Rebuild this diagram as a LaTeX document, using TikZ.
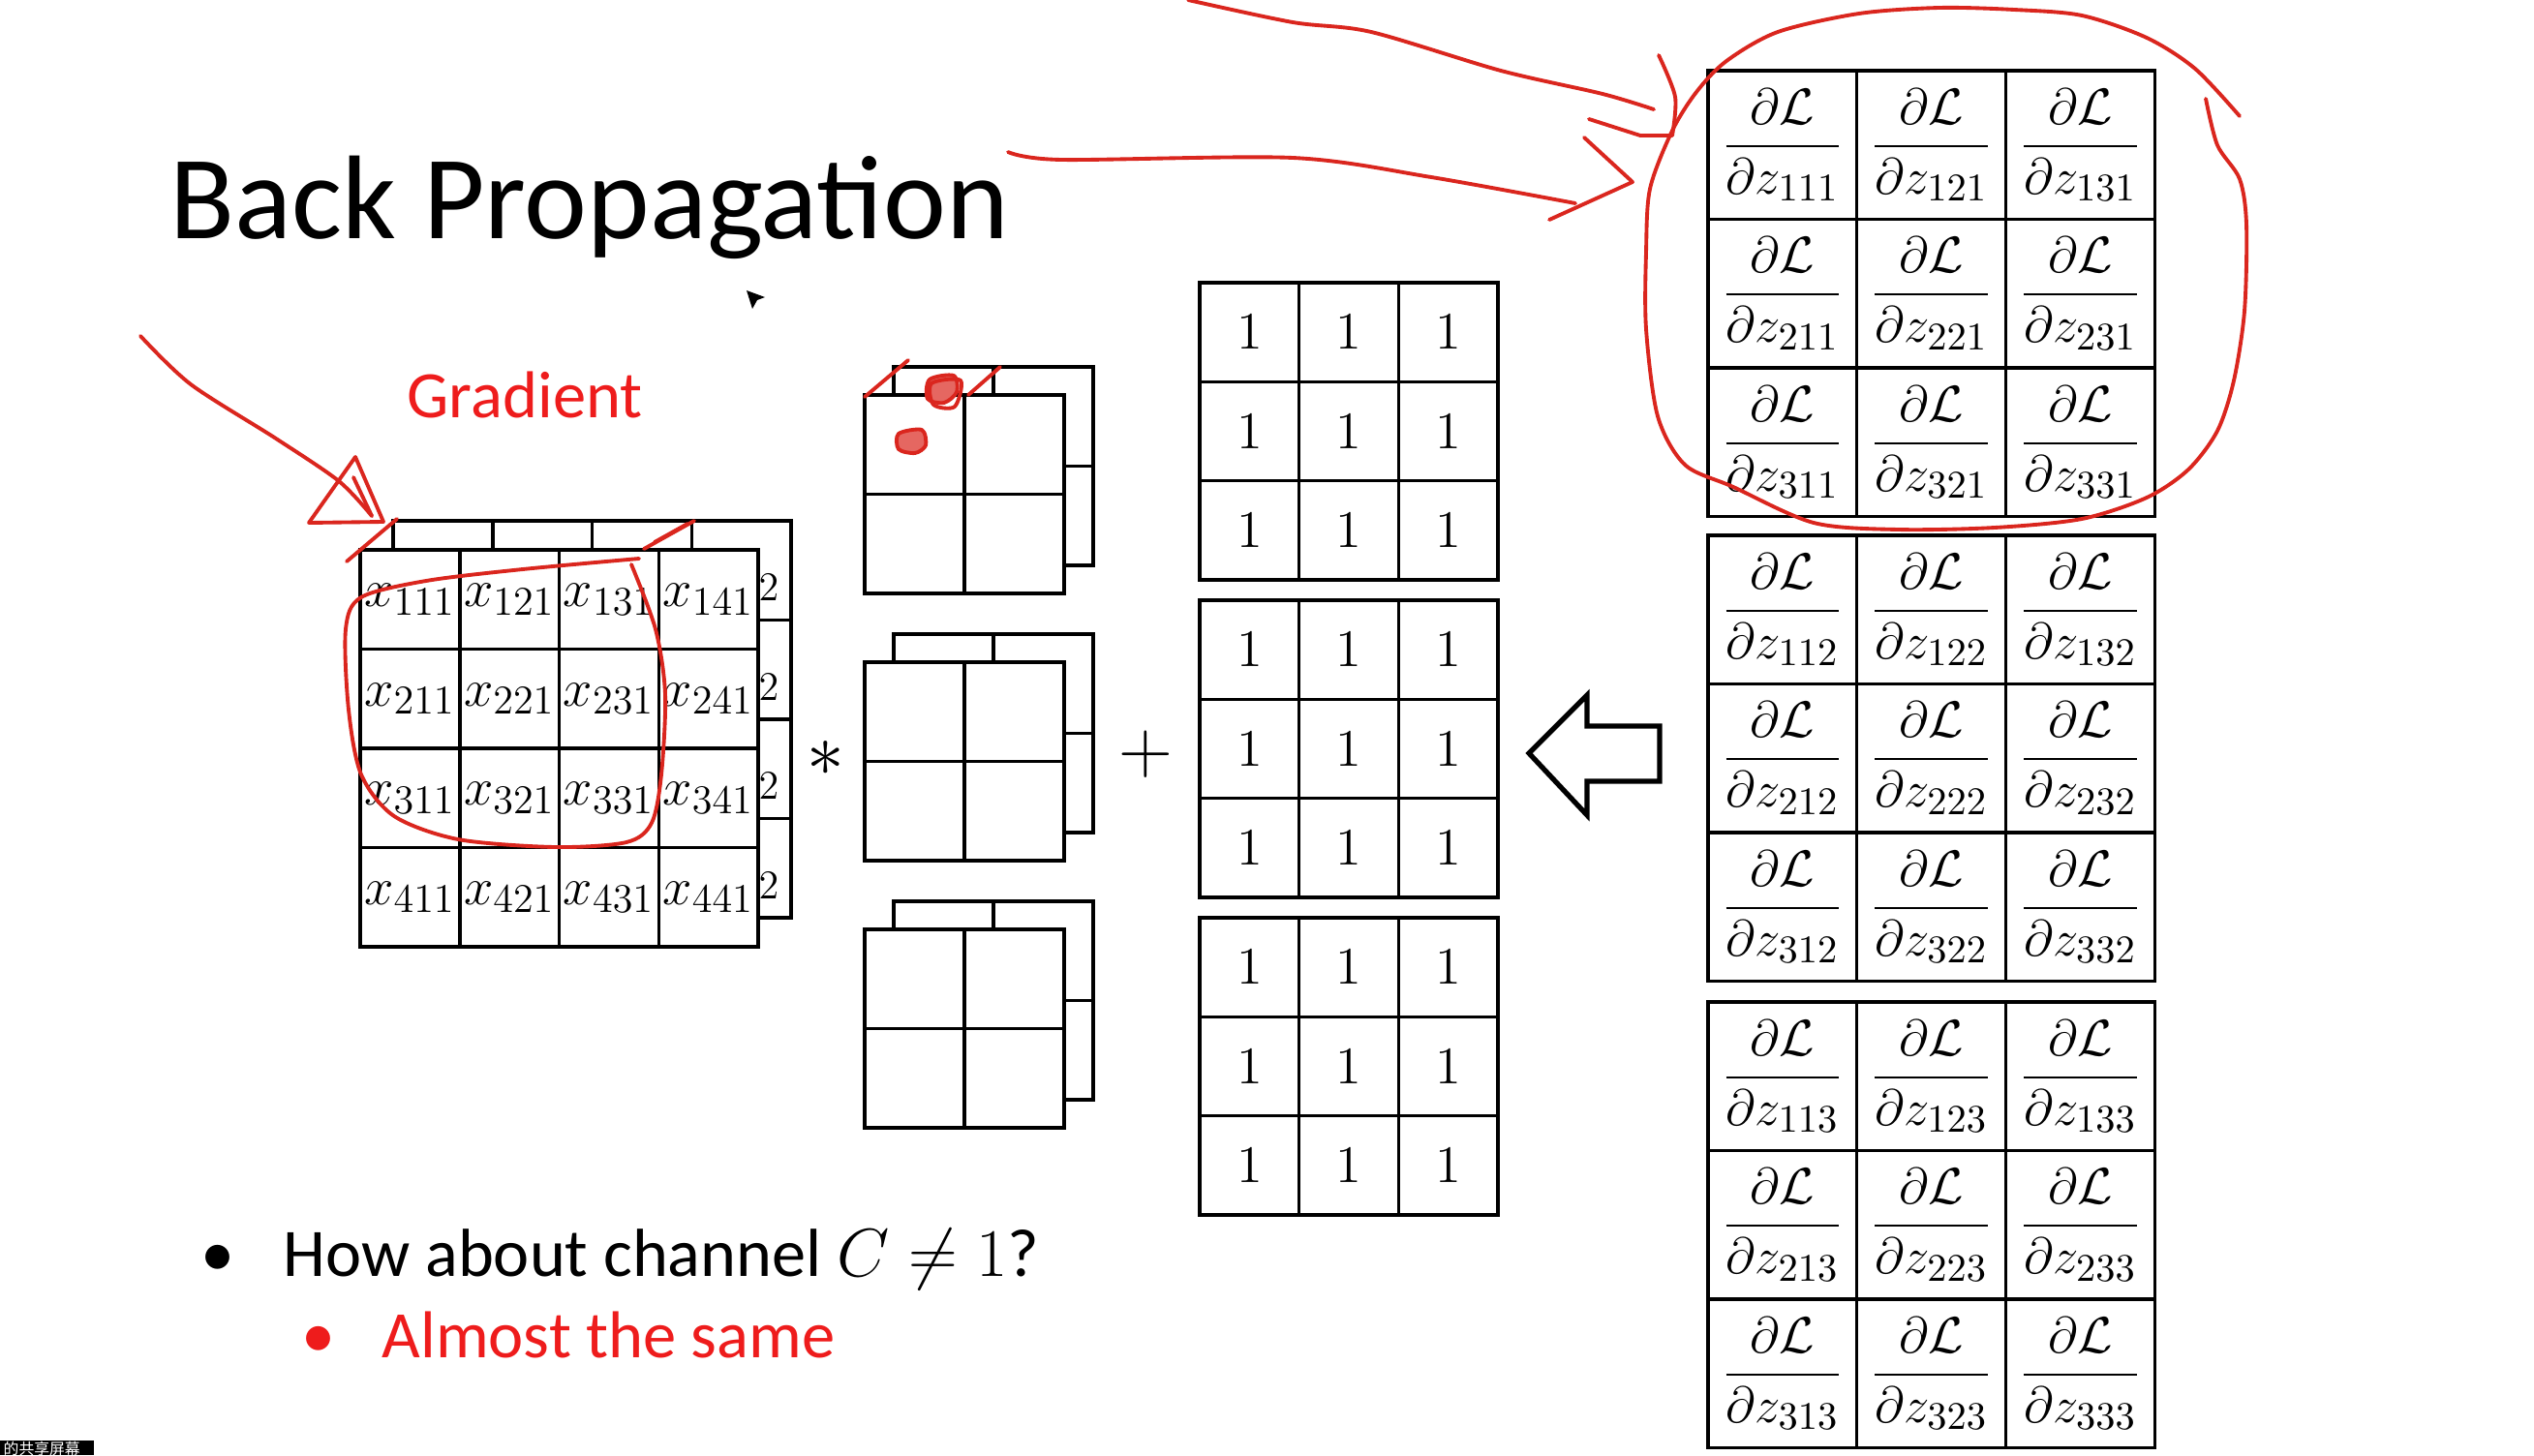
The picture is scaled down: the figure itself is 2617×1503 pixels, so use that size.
\RequirePackage{fix-cm}
\documentclass[tikz,border=0pt]{standalone}
\usepackage{amsmath}
\usepackage[no-math]{fontspec}
\setmainfont{Carlito}
\newfontfamily\cjkfont{Noto Sans CJK SC}
\DeclareMathSizes{15.5}{15.5}{12}{9}
\DeclareMathSizes{15}{15}{11.5}{9}
\definecolor{inkred}{RGB}{218,38,30}
\definecolor{slidered}{RGB}{238,28,28}

\tikzset{
  txt/.style={inner sep=0pt, anchor=base west},
  xcell/.style={draw, line width=1pt, fill=white, inner sep=0pt,
    minimum width=10.275mm, minimum height=10.25mm, font=\fontsize{15.5}{18}\selectfont},
  kcell/.style={draw, line width=1pt, fill=white, inner sep=0pt,
    minimum width=10.3mm, minimum height=10.25mm},
  onecell/.style={draw, line width=1pt, inner sep=0pt,
    minimum width=10.27mm, minimum height=10.23mm, font=\fontsize{15.5}{18}\selectfont},
  dcell/.style={draw, line width=0.9pt, inner sep=0pt,
    minimum width=15.37mm, minimum height=15.35mm, font=\fontsize{15}{18}\selectfont},
  ink/.style={draw=inkred, line width=1.1pt, line cap=round, line join=round},
}

\begin{document}
\begin{tikzpicture}[x=0.1mm, y=-0.1mm]
    \fill[white] (0,0) rectangle (2617,1503);
    \useasboundingbox (0,0) rectangle (2617,1503);

    \node[txt, font=\fontsize{35}{42}\selectfont] (title) at (175,247) {Back Propagation};
    \node[txt, text=slidered, font=\fontsize{19.5}{23}\selectfont] (grad) at (420,431) {Gradient};

    % input, back channel then front channel
    \foreach \r in {1,...,4}
      \foreach \c in {1,...,4}
        \node[xcell] (xb\r\c) at ({406+102.75*(\c-0.5)},{538+102.5*(\r-0.5)}) {};
    \foreach \r in {1,...,4}
      \node[inner sep=0pt, font=\fontsize{15.5}{18}\selectfont] (two\r) at (794,{607+102.5*(\r-1)}) {$\scriptstyle 2$};
    \foreach \r in {1,...,4}
      \foreach \c in {1,...,4}
        \node[xcell] (xf\r\c) at ({372+102.75*(\c-0.5)},{568+102.5*(\r-0.5)}) {$x_{\r\c1}$};

    \node[font=\fontsize{22}{26}\selectfont, inner sep=0pt] (times) at (853,784) {$\ast$};

    % filters, two channels each
    \foreach \k/\ky in {1/408, 2/684, 3/960} {
      \foreach \r in {1,2}
        \foreach \c in {1,2}
          \node[kcell] (kb\k\r\c) at ({923+103*(\c-0.5)},{\ky-29+102.5*(\r-0.5)}) {};
      \foreach \r in {1,2}
        \foreach \c in {1,2}
          \node[kcell] (kf\k\r\c) at ({893+103*(\c-0.5)},{\ky+102.5*(\r-0.5)}) {};
    }

    \node[font=\fontsize{22}{26}\selectfont, inner sep=0pt] (plus) at (1183,779) {$+$};

    % bias terms
    \foreach \g/\gy in {1/292, 2/620, 3/948}
      \foreach \r in {1,2,3}
        \foreach \c in {1,2,3}
          \node[onecell] (o\g\r\c) at ({1239+102.7*(\c-0.5)},{\gy+102.3*(\r-0.5)}) {$1$};

    % hollow arrow
    \draw[line width=1.5pt, miter limit=8] (1579,778) -- (1639,718) -- (1639,750) -- (1714,750)
      -- (1714,807) -- (1639,807) -- (1639,842) -- cycle;

    % gradients from the next layer
    \foreach \g/\gy in {1/73, 2/553, 3/1035}
      \foreach \r in {1,2,3}
        \foreach \c in {1,2,3}
          \node[dcell] (d\g\r\c) at ({1764+153.7*(\c-0.5)},{\gy+153.5*(\r-0.5)})
            {$\dfrac{\partial\mathcal{L}}{\partial z_{\r\c\g}}$};

    % bullets
    \node[inner sep=0pt, anchor=base, font=\fontsize{20}{24}\selectfont] (b1) at (225,1318) {•};
    \node[txt, font=\fontsize{20}{24}\selectfont] (q) at (292,1318) {How about channel $C \neq 1$?};
    \node[inner sep=0pt, anchor=base, text=slidered, font=\fontsize{20}{24}\selectfont] (b2) at (329,1402) {•};
    \node[txt, text=slidered, font=\fontsize{19.5}{23}\selectfont] (a) at (394,1402) {Almost the same};

    % pen strokes
    \draw[ink] plot[smooth] coordinates {(145,347) (197,397) (285,453) (350,497) (384,533)};
    \draw[ink] (319,540) -- (396,539) -- (367,472) -- cycle;
    \draw[ink] (365,493) -- (384,533);
    \draw[ink] (358,580) -- (410,536);
    \draw[ink] (665,567) -- (717,538);
    \draw[ink] (676,560) -- (710,541);
    \draw[ink] plot[smooth] coordinates {(660,577) (540,588) (440,600) (373,617) (357,650)
      (360,733) (373,800) (407,843) (473,867) (573,875) (647,870) (673,850) (683,800)
      (687,717) (677,650) (652,583)};

    \draw[ink] (893,410) -- (938,372);
    \draw[ink] (1000,408) -- (1033,379);
    \draw[ink, fill=inkred!70] plot[smooth cycle] coordinates {(960,392) (985,388) (988,405) (975,416) (958,412)};
    \draw[ink] plot[smooth cycle] coordinates {(962,396) (992,393) (986,420) (964,418)};
    \draw[ink, fill=inkred!70] plot[smooth cycle] coordinates {(928,448) (952,444) (956,460) (945,468) (928,464)};

    \draw[ink] plot[smooth] coordinates {(1227,0) (1335,23) (1416,33) (1550,73) (1655,97) (1708,113)};
    \draw[ink] (1641,123) -- (1694,140) -- (1727,140);
    \draw[ink] plot[smooth] coordinates {(1713,57) (1730,100) (1727,140)};
    \draw[ink] plot[smooth] coordinates {(1041,157) (1096,165) (1335,163) (1478,183) (1627,210)};
    \draw[ink] (1636,142) -- (1686,188) -- (1600,227);
    \draw[ink] plot[smooth] coordinates {(2278,102) (2290,150) (2313,185) (2320,232) (2318,321)
      (2307,393) (2290,445) (2260,485) (2217,514) (2150,536) (2060,545) (1960,547) (1873,540)
      (1790,503) (1740,480) (1712,430) (1700,340) (1700,260) (1704,195) (1727,135) (1752,95)
      (1783,63) (1836,33) (1920,14) (2003,8) (2080,10) (2150,16) (2217,39) (2267,71) (2313,120)};

    % mouse pointer
    \fill (771,300) -- (790,307) -- (782,310) -- (777,319) -- cycle;

    % screen sharing tag
    \fill[black] (0,1488) rectangle (97,1503);
    \node[anchor=west, inner sep=0pt, text=white, font=\cjkfont\fontsize{4.5}{5}\selectfont] (tag) at (3,1496) {的共享屏幕};
\end{tikzpicture}
\end{document}
